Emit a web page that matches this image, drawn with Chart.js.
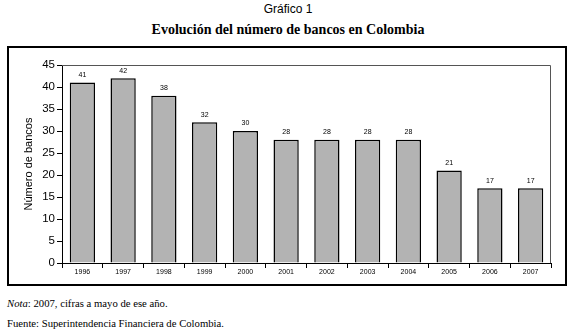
<!DOCTYPE html>
<html><head><meta charset="utf-8">
<script src="https://cdn.jsdelivr.net/npm/chart.js@4/dist/chart.umd.min.js"></script>
<style>
html,body{margin:0;padding:0;background:#fff;width:576px;height:335px;overflow:hidden;position:relative;}
#sup{position:absolute;left:0;width:576px;top:2px;text-align:center;font:12px "Liberation Sans",Arial,sans-serif;color:#000;}
#title{position:absolute;left:0;width:576px;top:22px;text-align:center;font:bold 14px "Liberation Serif","Times New Roman",serif;color:#000;}
#box{position:absolute;left:7px;top:46px;width:556px;height:236px;border:2px solid #000;}
#box canvas{display:block;}
.note{position:absolute;left:7px;font:10.7px "Liberation Serif","Times New Roman",serif;color:#000;}
</style></head><body>
<div id="sup">Gráfico 1</div>
<div id="title">Evolución del número de bancos en Colombia</div>
<div id="box"><canvas id="c" width="556" height="236"></canvas></div>
<div class="note" style="top:297px"><i>Nota</i>: 2007, cifras a mayo de ese año.</div>
<div class="note" style="top:317px">Fuente: Superintendencia Financiera de Colombia.</div>
<script>
const years = ['1996','1997','1998','1999','2000','2001','2002','2003','2004','2005','2006','2007'];
const banks = [41,42,38,32,30,28,28,28,28,21,17,17];
const yTicks = [0,5,10,15,20,25,30,35,40,45];

const frame = {
  id:'frame',
  beforeDatasetsDraw(chart){
    const a = chart.chartArea, ctx = chart.ctx;
    ctx.save();
    ctx.strokeStyle = '#555';
    ctx.lineWidth = 1;
    ctx.beginPath();
    ctx.moveTo(a.left, a.top + 0.5);
    ctx.lineTo(a.right - 0.5, a.top + 0.5);
    ctx.lineTo(a.right - 0.5, a.bottom);
    ctx.stroke();
    ctx.restore();
  }
};
const labels = {
  id:'vlabels',
  afterDatasetsDraw(chart){
    const ctx = chart.ctx;
    const meta = chart.getDatasetMeta(0);
    ctx.save();
    ctx.font = '7px "Liberation Sans", Arial, sans-serif';
    ctx.fillStyle = '#000';
    ctx.textAlign = 'center';
    ctx.textBaseline = 'bottom';
    meta.data.forEach((el,i)=>{
      ctx.fillText(String(banks[i]), el.x, el.y - 4);
    });
    ctx.restore();
  }
};

new Chart(document.getElementById('c'), {
  type:'bar',
  data:{labels:years, datasets:[{data:banks, backgroundColor:'#b3b3b3', borderColor:'#000', borderWidth:1.5, barPercentage:0.62, categoryPercentage:1}]},
  options:{
    responsive:false, animation:false, devicePixelRatio:1,
    layout:{padding:{top:17,right:14,left:0,bottom:0}},
    plugins:{legend:{display:false}, tooltip:{enabled:false}},
    scales:{
      x:{
        grid:{display:true, offset:true, drawOnChartArea:false, drawTicks:true, tickLength:5, color:'#000', tickWidth:1},
        border:{display:true, color:'#000', width:1},
        ticks:{font:{size:7, family:'"Liberation Sans", Arial, sans-serif'}, color:'#000', padding:0, maxRotation:0},
        afterFit(s){ s.height = 21; }
      },
      y:{
        min:0, max:45,
        afterBuildTicks(s){ s.ticks = yTicks.map(v=>({value:v})); },
        grid:{display:true, drawOnChartArea:false, drawTicks:true, tickLength:5, color:'#000'},
        border:{display:true, color:'#000', width:1},
        ticks:{font:{size:11.5, family:'"Liberation Sans", Arial, sans-serif'}, color:'#000', padding:2},
        title:{display:true, text:'Número de bancos', font:{size:11, family:'"Liberation Sans", Arial, sans-serif'}, color:'#000', padding:{top:13,bottom:0}},
        afterFit(s){ s.width = 53; }
      }
    }
  },
  plugins:[frame, labels]
});
</script>
</body></html>
